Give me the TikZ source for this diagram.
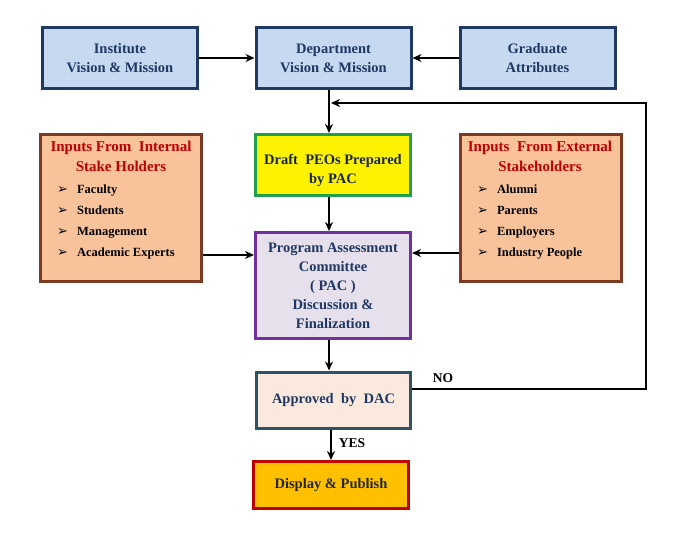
\documentclass[tikz,border=0pt]{standalone}
\usepackage{fontspec}
\setmainfont{Liberation Serif}
\newfontfamily\symfont{DejaVu Sans}
\usetikzlibrary{arrows.meta}
\definecolor{bluefill}{HTML}{C6D9F1}
\definecolor{navy}{HTML}{1F3864}
\definecolor{peach}{HTML}{F8C29B}
\definecolor{brownb}{HTML}{7B3A24}
\definecolor{darkred}{HTML}{C00000}
\definecolor{greenb}{HTML}{1FA050}
\definecolor{lav}{HTML}{E6E0EC}
\definecolor{purpb}{HTML}{7030A0}
\definecolor{apfill}{HTML}{FBE9DD}
\definecolor{tealb}{HTML}{2E5366}
\definecolor{orangef}{HTML}{FFC000}
\newcommand{\bul}{{\symfont\fontsize{13}{21}\selectfont ➢}\hspace{9pt}}
\begin{document}
\begin{tikzpicture}[x=1pt,y=-1pt,
  box/.style={draw,line width=3pt,align=center,inner sep=0pt,font=\fontsize{14.5}{19}\selectfont\bfseries},
  bluebox/.style={box,draw=navy,fill=bluefill,text=navy,minimum width=155pt,minimum height=61pt},
  stake/.style={draw=brownb,fill=peach,line width=3pt,minimum width=161pt,minimum height=147pt,inner sep=0pt},
  stitle/.style={align=center,text=darkred,font=\fontsize{15}{20}\selectfont\bfseries,inner sep=0pt},
  slist/.style={align=left,text=black,font=\fontsize{12.5}{21}\selectfont\bfseries,inner sep=0pt,anchor=north west},
  arr/.style={line width=2.8pt,-{Stealth[length=9pt,width=8pt]}},
  lbl/.style={font=\fontsize{13.5}{14}\selectfont\bfseries,inner sep=0pt}]
\useasboundingbox (0,0) rectangle (685,538);
% top row
\node[bluebox] (inst) at (120,58) {Institute\\Vision \& Mission};
\node[bluebox] (dept) at (333.5,58) {Department\\Vision \& Mission};
\node[bluebox] (grad) at (537.5,58) {Graduate\\Attributes};
% draft
\node[box,draw=greenb,fill=yellow,minimum width=155pt,minimum height=61pt] (draft) at (333,165) {};
\node[box,draw=none,text=navy!70!black] (draftT) at (333,170) {Draft\ \ PEOs Prepared\\by PAC};
% stakeholders
\node[stake] (int) at (121,208) {};
\node[stitle] (intT) at (121,156) {Inputs\ From\ \ Internal\\Stake Holders};
\node[slist] (intL) at (57,185) {\bul Faculty\\\bul Students\\\bul Management\\\bul Academic Experts};
\node[stake] (ext) at (540.5,208) {};
\node[stitle] (extT) at (540,156) {Inputs\ \ From External\\Stakeholders};
\node[slist] (extL) at (477,185) {\bul Alumni\\\bul Parents\\\bul Employers\\\bul Industry People};
% PAC
\node[box,draw=purpb,fill=lav,text=navy,minimum width=155pt,minimum height=106pt] (pac) at (333,285.5) {Program Assessment\\Committee\\( PAC )\\Discussion \&\\Finalization};
% approved
\node[box,draw=tealb,fill=apfill,text=navy,minimum width=154pt,minimum height=56pt] (appr) at (333.5,400) {Approved\ \ by\ \ DAC};
% display
\node[box,draw=darkred,fill=orangef,text=black!85,minimum width=155pt,minimum height=47pt] (disp) at (331,485) {Display \& Publish};
% helper coordinates
\coordinate (vx) at (329,0);
\coordinate (ly) at (0,255);
\coordinate (ry) at (0,253);
\coordinate (noy) at (0,389);
\coordinate (c1) at (646,389);
\coordinate (c2) at (646,103);
\coordinate (c3) at (331,103);
% arrows
\draw[arr] (inst.east) -- (dept.west);
\draw[arr] (grad.west) -- (dept.west -| dept.east);
\draw[arr] (dept.south -| vx) -- (draft.north -| vx);
\draw[arr] (draft.south -| vx) -- (pac.north -| vx);
\draw[arr] (int.east |- ly) -- (pac.west |- ly);
\draw[arr] (ext.west |- ry) -- (pac.east |- ry);
\draw[arr] (pac.south -| vx) -- (appr.north -| vx);
\draw[arr] (appr.south -| 331,0) -- (disp.north -| 331,0);
\draw[arr] (appr.east |- noy) -- (c1) -- (c2) -- (c3);
\node[lbl] (no) at (443,378) {NO};
\node[lbl] (yes) at (352,443) {YES};
\end{tikzpicture}
\end{document}
